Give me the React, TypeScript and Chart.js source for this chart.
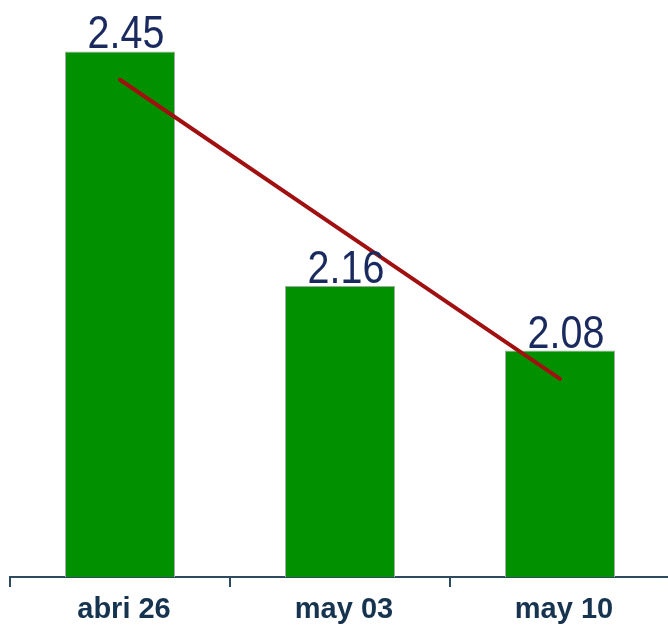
import React, { useEffect, useRef } from "react";
import { Chart, registerables } from "chart.js";

Chart.register(...registerables);

const categories = ["abri 26", "may 03", "may 10"];
const barValues = [2.45, 2.16, 2.08];
const trendValues = [2.415, 2.23, 2.045];
const valueLabels = ["2.45", "2.16", "2.08"];

const valueLabelPlugin = {
  id: "valueLabels",
  afterDatasetsDraw(chart: any) {
    const meta = chart.getDatasetMeta(0);
    const ctx = chart.ctx;
    const sx = 0.84;
    meta.data.forEach((bar: any, i: number) => {
      ctx.save();
      ctx.fillStyle = "#1A2A5E";
      ctx.font = '47px "Liberation Sans", Arial, sans-serif';
      ctx.textAlign = "center";
      ctx.textBaseline = "alphabetic";
      ctx.translate(bar.x + 6, bar.y - 3);
      ctx.scale(sx, 1);
      ctx.fillText(valueLabels[i], 0, 0);
      ctx.restore();
    });
  },
};

export default function App() {
  const ref = useRef<HTMLCanvasElement>(null);
  useEffect(() => {
    document.body.style.margin = "0";
    document.documentElement.style.overflow = "hidden";
    document.body.style.overflow = "hidden";
    const canvas = ref.current!;
    const chart = new Chart(canvas, {
      type: "bar",
      data: {
        labels: categories,
        datasets: [
          {
            type: "bar",
            data: barValues,
            backgroundColor: "#009000",
            borderColor: "#a0aca0",
            borderWidth: 1,
            barPercentage: 0.5,
            categoryPercentage: 1,
            order: 1,
          } as any,
          {
            type: "line",
            data: trendValues,
            borderColor: "#A01010",
            borderWidth: 4,
            borderCapStyle: "round",
            pointRadius: 0,
            fill: false,
            order: 0,
          } as any,
        ],
      },
      options: {
        responsive: false,
        animation: false,
        devicePixelRatio: 1,
        layout: { padding: { top: 11, left: 10, right: 0, bottom: 0 } },
        plugins: { legend: { display: false }, tooltip: { enabled: false } },
        scales: {
          x: {
            offset: true,
            afterFit(scale: any) {
              scale.height = 48;
            },
            grid: {
              offset: true,
              drawOnChartArea: false,
              drawTicks: true,
              tickLength: 10,
              color: "#2E4A5E",
              lineWidth: 2,
            },
            border: { display: true, color: "#2E4A5E", width: 2 },
            ticks: {
              color: "#16334F",
              font: { family: '"Liberation Sans", Arial, sans-serif', size: 29, weight: "bold" },
              padding: 6,
              labelOffset: 4,
            },
          } as any,
          y: {
            display: false,
            min: 1.8,
            max: 2.5,
          },
        },
      },
      plugins: [valueLabelPlugin],
    });
    return () => chart.destroy();
  }, []);
  return <canvas ref={ref} width={670} height={625} style={{ display: "block" }} />;
}
